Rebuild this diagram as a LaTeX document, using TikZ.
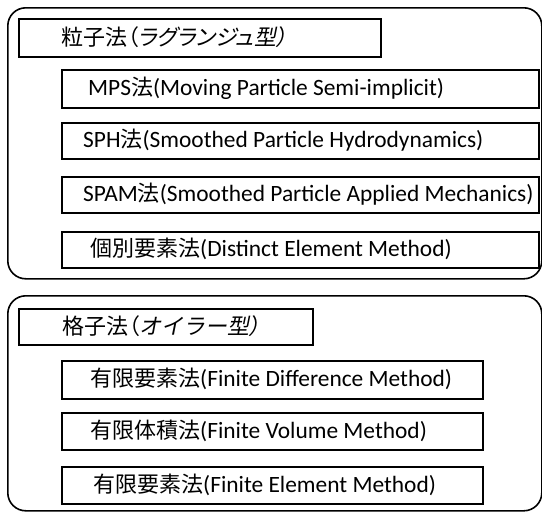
\documentclass[tikz,border=0pt]{standalone}
\usepackage{fontspec}
\setmainfont{Carlito}
\newfontfamily\cjk{Noto Sans CJK JP}
\newfontfamily\cjkit[FakeSlant=0.2]{Noto Sans CJK JP}
\newfontfamily\cjkp[RawFeature=+palt]{Noto Sans CJK JP}
\newfontfamily\cjkpit[RawFeature=+palt,FakeSlant=0.2]{Noto Sans CJK JP}
\newcommand\jp[1]{{\fontsize{22}{26}\cjk #1}}
\begin{document}
\begin{tikzpicture}[x=1pt,y=-1pt,
  outer/.style={draw, line width=1.6pt, rounded corners=18pt, rectangle, anchor=north west, inner sep=0},
  box/.style={draw, line width=1.5pt, rectangle, anchor=north west, inner sep=0},
  lbl/.style={anchor=west, inner sep=0, font=\fontsize{23.4}{28}\selectfont}]
\useasboundingbox (0,0) rectangle (542,512);
% group 1
\node[outer, minimum width=534pt, minimum height=271pt] (g1) at (7,7) {};
\node[box, minimum width=362pt, minimum height=38pt] (t1) at (18,18) {};
\node[lbl] (t1l) at (61,37) {\fontsize{22}{26}\cjkp 粒子法（\cjkpit ラグランジュ型）};
\node[box, minimum width=477pt, minimum height=38pt] (b1) at (61,69) {};
\node[lbl] (b1l) at (88,88) {MPS\jp{法}(Moving Particle Semi-implicit)};
\node[box, minimum width=477pt, minimum height=36pt] (b2) at (61,122) {};
\node[lbl] (b2l) at (83,140) {SPH\jp{法}(Smoothed Particle Hydrodynamics)};
\node[box, minimum width=477pt, minimum height=36pt] (b3) at (61,176) {};
\node[lbl] (b3l) at (83,194) {SPAM\jp{法}(Smoothed Particle Applied Mechanics)};
\node[box, minimum width=477pt, minimum height=36pt] (b4) at (61,231) {};
\node[lbl] (b4l) at (90,249) {\jp{個別要素法}(Distinct Element Method)};
% group 2
\node[outer, minimum width=534pt, minimum height=215pt] (g2) at (7,295) {};
\node[box, minimum width=294pt, minimum height=36pt] (t2) at (18,308) {};
\node[lbl] (t2l) at (62,326) {\fontsize{22}{26}\cjkp 格子法（{\cjkit オイラー型}\cjkpit ）};
\node[box, minimum width=421pt, minimum height=38pt] (c1) at (61,360) {};
\node[lbl] (c1l) at (90,379) {\jp{有限要素法}(Finite Difference Method)};
\node[box, minimum width=421pt, minimum height=37pt] (c2) at (61,412) {};
\node[lbl] (c2l) at (90,431) {\jp{有限体積法}(Finite Volume Method)};
\node[box, minimum width=421pt, minimum height=37pt] (c3) at (61,466) {};
\node[lbl] (c3l) at (93,485) {\jp{有限要素法}(Finite Element Method)};
\end{tikzpicture}
\end{document}
